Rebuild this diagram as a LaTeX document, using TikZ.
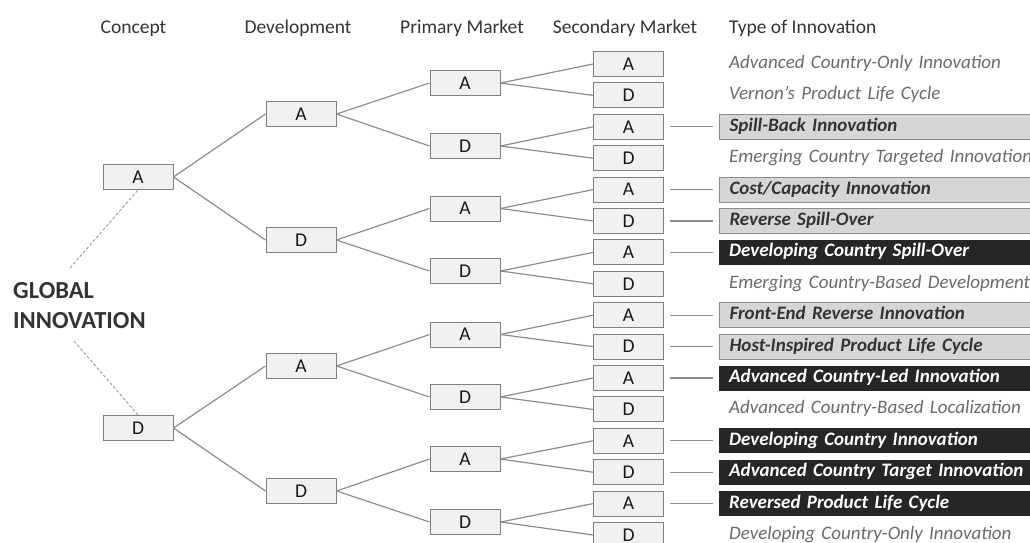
\documentclass[tikz,border=0pt]{standalone}
\usepackage{fontspec}
\setmainfont{Carlito}
\definecolor{boxfill}{HTML}{F2F1EF}
\definecolor{boxline}{HTML}{7F7F7F}
\definecolor{branchgray}{HTML}{8C8C8C}
\definecolor{headgray}{HTML}{333333}
\definecolor{plaingray}{HTML}{6A6A6A}
\definecolor{lightfill}{HTML}{D6D6D6}
\definecolor{darkfill}{HTML}{262626}
\tikzset{
    choice/.style={rectangle, draw=boxline, fill=boxfill, line width=1pt, minimum width=70pt, minimum height=25pt, inner sep=0pt, text=black!90, font=\fontsize{19.5}{22}\selectfont},
    branch/.style={draw=branchgray, line width=1.2pt},
    link/.style={draw=branchgray, line width=1.2pt, shorten <=6pt, shorten >=6pt},
    guide/.style={draw=branchgray, line width=0.8pt, densely dashed},
    head/.style={anchor=base, inner sep=0pt, text=headgray, font=\fontsize{19.5}{22}\selectfont},
    kind/.style={anchor=west, rectangle, minimum height=25pt, text width=400pt, align=left, inner xsep=10pt, inner ysep=0pt, text height=13pt, text depth=4pt, font=\fontsize{19}{22}\selectfont\itshape},
    plain/.style={kind, text=plaingray},
    light/.style={kind, draw=branchgray, line width=1pt, fill=lightfill, text=headgray, font=\fontsize{19}{22}\selectfont\bfseries\itshape},
    dark/.style={kind, fill=darkfill, text=white, font=\fontsize{19}{22}\selectfont\bfseries\itshape},
}
\begin{document}
\begin{tikzpicture}[x=1pt, y=-1pt]
    \useasboundingbox (0,0) rectangle (1030,542);

    % column headings
    \node[head] (h1) at (133.5,33) {Concept};
    \node[head] (h2) at (298,33) {Development};
    \node[head] (h3) at (462,33) {Primary Market};
    \node[head] (h4) at (625,33) {Secondary Market};
    \node[head, anchor=base west] (h5) at (729,33) {Type of Innovation};

    \node[anchor=north west, inner sep=0pt, align=left, text=headgray, font=\fontsize{24.5}{30}\selectfont\bfseries] (global) at (13,282) {GLOBAL\\INNOVATION};
    \coordinate (g1) at (70,268);
    \coordinate (g2) at (74,341);

    \begin{scope}[every node/.style={choice}]
        \node (c1) at (138,177) {A};
        \node (c2) at (138,428) {D};

        \node (d1) at (301,114) {A};
        \node (d2) at (301,240) {D};
        \node (d3) at (301,366) {A};
        \node (d4) at (301,491) {D};

        \node (p1) at (465,83) {A};
        \node (p2) at (465,146) {D};
        \node (p3) at (465,208.5) {A};
        \node (p4) at (465,271) {D};
        \node (p5) at (465,334.5) {A};
        \node (p6) at (465,397) {D};
        \node (p7) at (465,459) {A};
        \node (p8) at (465,522) {D};

        \node (s1) at (628.5,64) {A};
        \node (s2) at (628.5,95.4) {D};
        \node (s3) at (628.5,126.8) {A};
        \node (s4) at (628.5,158.2) {D};
        \node (s5) at (628.5,189.6) {A};
        \node (s6) at (628.5,221) {D};
        \node (s7) at (628.5,252.4) {A};
        \node (s8) at (628.5,283.8) {D};
        \node (s9) at (628.5,315.2) {A};
        \node (s10) at (628.5,346.6) {D};
        \node (s11) at (628.5,378) {A};
        \node (s12) at (628.5,409.4) {D};
        \node (s13) at (628.5,440.8) {A};
        \node (s14) at (628.5,472.2) {D};
        \node (s15) at (628.5,503.6) {A};
        \node (s16) at (628.5,535) {D};
    \end{scope}

    % type of innovation
    \node[plain] (t1) at (719,64) {Advanced Country-Only Innovation};
    \node[plain] (t2) at (719,95.4) {Vernon’s Product Life Cycle};
    \node[light] (t3) at (719,126.8) {Spill-Back Innovation};
    \node[plain] (t4) at (719,158.2) {Emerging Country Targeted Innovation};
    \node[light] (t5) at (719,189.6) {Cost/Capacity Innovation};
    \node[light] (t6) at (719,221) {Reverse Spill-Over};
    \node[dark] (t7) at (719,252.4) {Developing Country Spill-Over};
    \node[plain] (t8) at (719,283.8) {Emerging Country-Based Development};
    \node[light] (t9) at (719,315.2) {Front-End Reverse Innovation};
    \node[light] (t10) at (719,346.6) {Host-Inspired Product Life Cycle};
    \node[dark] (t11) at (719,378) {Advanced Country-Led Innovation};
    \node[plain] (t12) at (719,409.4) {Advanced Country-Based Localization};
    \node[dark] (t13) at (719,440.8) {Developing Country Innovation};
    \node[dark] (t14) at (719,472.2) {Advanced Country Target Innovation};
    \node[dark] (t15) at (719,503.6) {Reversed Product Life Cycle};
    \node[plain] (t16) at (719,535) {Developing Country-Only Innovation};

    \begin{scope}[every edge/.style={branch}]
        \path (c1.east) edge (d1.west);
        \path (c1.east) edge (d2.west);
        \path (c2.east) edge (d3.west);
        \path (c2.east) edge (d4.west);

        \path (d1.east) edge (p1.west);
        \path (d1.east) edge (p2.west);
        \path (d2.east) edge (p3.west);
        \path (d2.east) edge (p4.west);
        \path (d3.east) edge (p5.west);
        \path (d3.east) edge (p6.west);
        \path (d4.east) edge (p7.west);
        \path (d4.east) edge (p8.west);

        \path (p1.east) edge (s1.west);
        \path (p1.east) edge (s2.west);
        \path (p2.east) edge (s3.west);
        \path (p2.east) edge (s4.west);
        \path (p3.east) edge (s5.west);
        \path (p3.east) edge (s6.west);
        \path (p4.east) edge (s7.west);
        \path (p4.east) edge (s8.west);
        \path (p5.east) edge (s9.west);
        \path (p5.east) edge (s10.west);
        \path (p6.east) edge (s11.west);
        \path (p6.east) edge (s12.west);
        \path (p7.east) edge (s13.west);
        \path (p7.east) edge (s14.west);
        \path (p8.east) edge (s15.west);
        \path (p8.east) edge (s16.west);
    \end{scope}

    \begin{scope}[every edge/.style={link}]
        \path (s3.east) edge (t3.west);
        \path (s5.east) edge (t5.west);
        \path (s6.east) edge (t6.west);
        \path (s7.east) edge (t7.west);
        \path (s9.east) edge (t9.west);
        \path (s10.east) edge (t10.west);
        \path (s11.east) edge (t11.west);
        \path (s13.east) edge (t13.west);
        \path (s14.east) edge (t14.west);
        \path (s15.east) edge (t15.west);
    \end{scope}

    \path[guide] (g1) edge (c1.south);
    \path[guide] (g2) edge (c2.north);
\end{tikzpicture}
\end{document}
